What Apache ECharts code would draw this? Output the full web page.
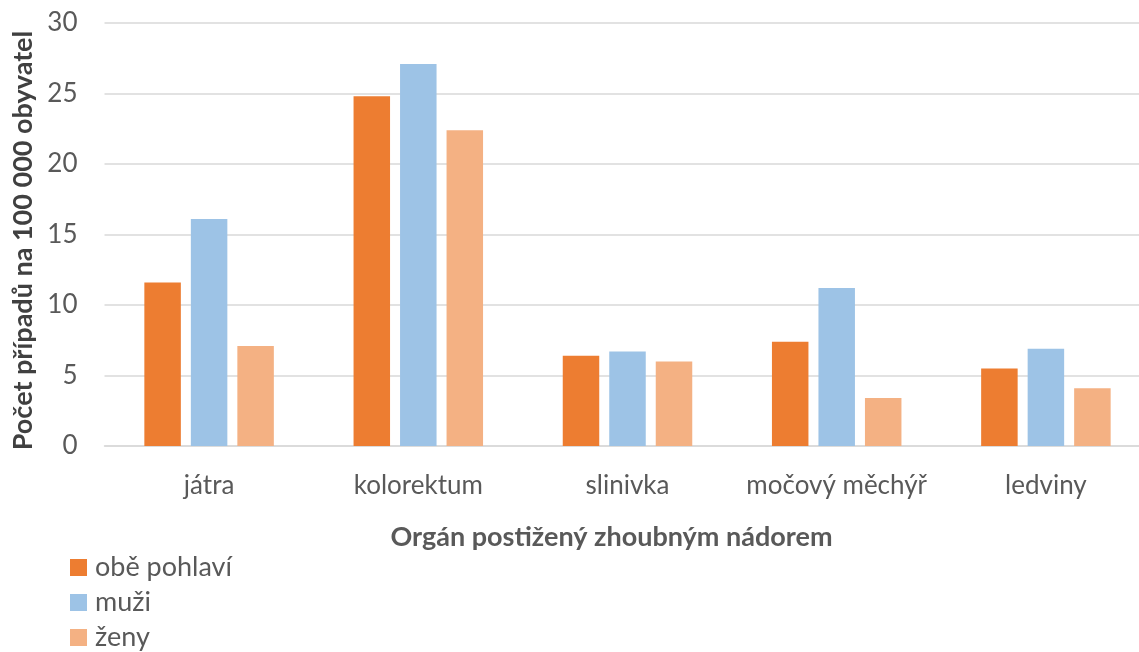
<!DOCTYPE html>
<html>
<head>
<meta charset="utf-8">
<script src="https://cdn.jsdelivr.net/npm/echarts@6/dist/echarts.min.js"></script>
<style>
  html, body { margin: 0; padding: 0; background: #fff; overflow: hidden; width: 1139px; height: 652px; }
  /* the canvas is a little wider than the page so the plot area runs off the right edge */
  #chart { width: 1160px; height: 652px; }
</style>
</head>
<body>
<div id="chart"></div>
<script>
// Incidence of malignant tumours by organ, per 100 000 inhabitants
const categories = ['játra', 'kolorektum', 'slinivka', 'močový měchýř', 'ledviny'];
const seriesNames = ['obě pohlaví', 'muži', 'ženy'];
const valuesBoth = [11.6, 24.8, 6.4, 7.4, 5.5];
const valuesMen = [16.1, 27.1, 6.7, 11.2, 6.9];
const valuesWomen = [7.1, 22.4, 6.0, 3.4, 4.1];
const colors = ['#ED7D31', '#9DC3E6', '#F4B183'];

const font = 'Lato, "Open Sans", sans-serif';
const chart = echarts.init(document.getElementById('chart'), null, { renderer: 'canvas' });

const makeSeries = (name, data, color) => ({
  name: name,
  type: 'bar',
  data: data,
  barWidth: 36.5,
  barGap: '27.4%',
  itemStyle: { color: color },
  emphasis: { disabled: true }
});

chart.setOption({
  animation: false,
  textStyle: { fontFamily: font },
  grid: { left: 104.5, right: 9.5, top: 23, bottom: 206 },
  legend: {
    orient: 'vertical',
    left: 70,
    top: 554,
    padding: 0,
    itemWidth: 17,
    itemHeight: 17,
    itemGap: 8,
    icon: 'rect',
    textStyle: { fontSize: 27, lineHeight: 27, color: '#595959', fontFamily: font, padding: [0, 0, 0, 3] },
    data: seriesNames
  },
  xAxis: {
    type: 'category',
    data: categories,
    axisTick: { show: false },
    axisLine: { lineStyle: { color: '#D9D9D9', width: 1.5 } },
    axisLabel: { fontSize: 26, color: '#595959', margin: 27, interval: 0, fontFamily: font },
    name: 'Orgán postižený zhoubným nádorem',
    nameLocation: 'middle',
    nameGap: 78,
    nameTextStyle: { fontSize: 27, fontWeight: 'bold', color: '#595959', fontFamily: font, padding: [0, 32, 0, 0] }
  },
  yAxis: {
    type: 'value',
    min: 0,
    max: 30,
    interval: 5,
    axisLine: { show: false },
    axisTick: { show: false },
    splitLine: { lineStyle: { color: '#D9D9D9', width: 1.5 } },
    axisLabel: { fontSize: 26, color: '#595959', margin: 27, fontFamily: font },
    name: 'Počet případů na 100 000 obyvatel',
    nameLocation: 'middle',
    nameGap: 68,
    nameTextStyle: { fontSize: 27, fontWeight: 'bold', color: '#404040', fontFamily: font, padding: [0, 12, 0, 0] }
  },
  series: [
    makeSeries(seriesNames[0], valuesBoth, colors[0]),
    makeSeries(seriesNames[1], valuesMen, colors[1]),
    makeSeries(seriesNames[2], valuesWomen, colors[2])
  ]
});
</script>
</body>
</html>
